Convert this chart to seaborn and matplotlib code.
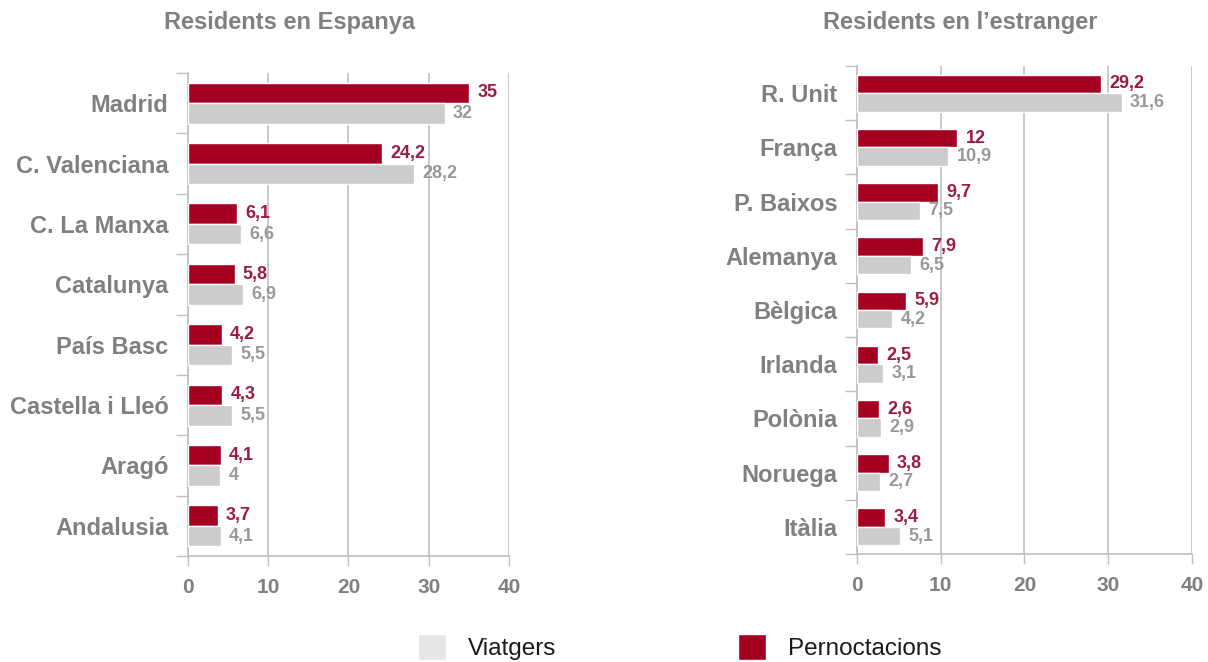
import matplotlib
matplotlib.use("Agg")
import matplotlib.pyplot as plt
from matplotlib.patches import Patch
import numpy as np
import pandas as pd
import seaborn as sns

# data
regions_es = ["Madrid", "C. Valenciana", "C. La Manxa", "Catalunya",
              "País Basc", "Castella i Lleó", "Aragó", "Andalusia"]
pernoct_es = [35, 24.2, 6.1, 5.8, 4.2, 4.3, 4.1, 3.7]
viatgers_es = [32, 28.2, 6.6, 6.9, 5.5, 5.5, 4, 4.1]

regions_ext = ["R. Unit", "França", "P. Baixos", "Alemanya", "Bèlgica",
               "Irlanda", "Polònia", "Noruega", "Itàlia"]
pernoct_ext = [29.2, 12, 9.7, 7.9, 5.9, 2.5, 2.6, 3.8, 3.4]
viatgers_ext = [31.6, 10.9, 7.5, 6.5, 4.2, 3.1, 2.9, 2.7, 5.1]

RED = "#a50021"
GREY = "#cccccc"
RED_TXT = "#9c1c40"
GREY_TXT = "#999999"
LABEL = "#808080"
LINE = "#c0c0c0"

sns.set_theme(style="white")
plt.rcParams["font.family"] = ["Liberation Sans", "DejaVu Sans"]


def to_long(regions, pernoct, viatgers):
    df_p = pd.DataFrame({"region": regions, "value": pernoct, "series": "Pernoctacions"})
    df_v = pd.DataFrame({"region": regions, "value": viatgers, "series": "Viatgers"})
    return pd.concat([df_p, df_v], ignore_index=True)


def fmt(v):
    return f"{v:g}".replace(".", ",")


def draw_panel(ax, regions, pernoct, viatgers):
    df = to_long(regions, pernoct, viatgers)
    sns.barplot(data=df, x="value", y="region", hue="series",
                hue_order=["Pernoctacions", "Viatgers"],
                palette={"Pernoctacions": RED, "Viatgers": GREY},
                orient="h", width=0.68, saturation=1, errorbar=None,
                legend=False, ax=ax, zorder=3)
    ax.bar_label(ax.containers[0], labels=[fmt(v) for v in pernoct], padding=6,
                 color=RED_TXT, fontsize=13, fontweight="bold")
    ax.bar_label(ax.containers[1], labels=[fmt(v) for v in viatgers], padding=6,
                 color=GREY_TXT, fontsize=13, fontweight="bold")

    n = len(regions)
    ax.set_xlim(0, 40)
    ax.set_xticks([0, 10, 20, 30, 40])
    ax.set_ylim(n - 0.5, -0.5)
    ax.set_yticks(np.arange(n + 1) - 0.5, minor=True)
    ax.tick_params(axis="y", which="major", length=0, pad=14,
                   labelsize=17, labelcolor=LABEL)
    ax.tick_params(axis="y", which="minor", length=9, width=1, color=LINE, left=True)
    ax.tick_params(axis="x", length=7, width=1, color=LINE, pad=9, bottom=True,
                   labelsize=15, labelcolor=LABEL)
    for lab in ax.get_yticklabels() + ax.get_xticklabels():
        lab.set_fontweight("bold")
    ax.grid(axis="x", color=LINE, lw=1.2, zorder=0)
    ax.grid(axis="y", visible=False)
    for s in ["top", "right"]:
        ax.spines[s].set_visible(False)
    for s in ["left", "bottom"]:
        ax.spines[s].set_color(LINE)
        ax.spines[s].set_linewidth(1.2)
    ax.set_xlabel("")
    ax.set_ylabel("")


fig = plt.figure(figsize=(12.08, 6.62), dpi=100)
ax1 = fig.add_axes([0.1556, 0.1601, 0.2657, 0.7296])
ax2 = fig.add_axes([0.7094, 0.1631, 0.2773, 0.7372])

draw_panel(ax1, regions_es, pernoct_es, viatgers_es)
draw_panel(ax2, regions_ext, pernoct_ext, viatgers_ext)

fig.text(290 / 1208, 1 - 23 / 662, "Residents en Espanya", ha="center", va="center",
         fontsize=17, fontweight="bold", color=LABEL)
fig.text(960 / 1208, 1 - 23 / 662, "Residents en l\u2019estranger", ha="center", va="center",
         fontsize=17, fontweight="bold", color=LABEL)

handles = [Patch(facecolor="#e6e6e6", label="Viatgers"),
           Patch(facecolor=RED, label="Pernoctacions")]
fig.legend(handles=handles, loc="center", bbox_to_anchor=(0.5625, 0.022), ncol=2,
           frameon=False, fontsize=17.5, handlelength=1.15, handleheight=1.25,
           handletextpad=0.9, columnspacing=7.5, labelcolor="#1a1a1a")

fig.savefig("out.png", dpi=100)
